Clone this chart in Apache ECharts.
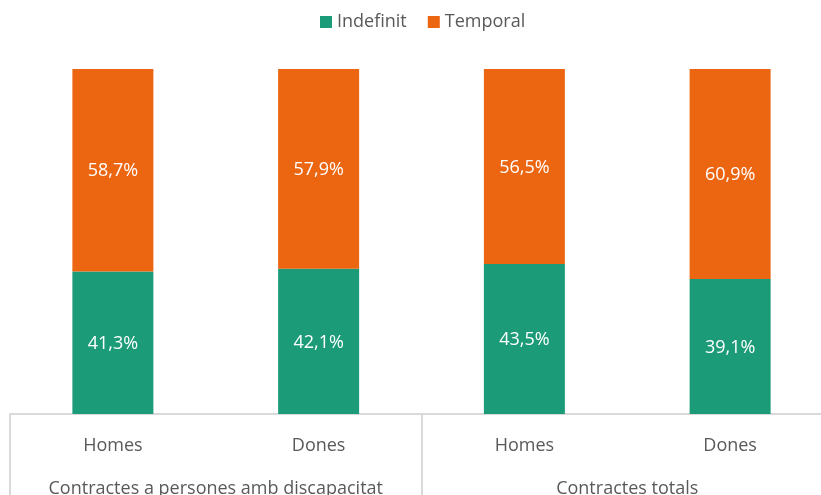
<!DOCTYPE html>
<html>
<head>
<meta charset="utf-8">
<script src="https://cdn.jsdelivr.net/npm/echarts@6/dist/echarts.min.js"></script>
<style>
  html, body { margin: 0; padding: 0; background: #ffffff; overflow: hidden; }
  /* canvas is wider than the window so the last category band is cut at the right edge */
  #chart { width: 840px; height: 495px; }
</style>
</head>
<body>
<div id="chart"></div>
<script>
// Contract type shares (%) by sex, for disabled workers and all contracts
const sexCategories = ['Homes', 'Dones', 'Homes', 'Dones'];
const groupCategories = ['Contractes a persones amb discapacitat', 'Contractes totals'];
const indefinit = [41.3, 42.1, 43.5, 39.1];
const temporal = [58.7, 57.9, 56.5, 60.9];

const FONT = '"Open Sans", "Noto Sans", sans-serif';
const GREY = '#595959';
const LINE = '#d9d9d9';

const fmt = p => p.value.toFixed(1).replace('.', ',') + '%';

const chart = echarts.init(document.getElementById('chart'), null, { renderer: 'canvas' });

chart.setOption({
  animation: false,
  color: ['#1b9b78', '#ec6511'],
  legend: {
    left: 315,
    top: 8,
    itemWidth: 12,
    itemHeight: 12,
    itemGap: 21,
    icon: 'rect',
    textStyle: { fontFamily: FONT, fontSize: 18, color: GREY },
    data: ['Indefinit', 'Temporal']
  },
  grid: { left: 10, top: 69, width: 823, height: 345, containLabel: false, outerBoundsMode: 'none' },
  xAxis: [
    {
      type: 'category',
      data: sexCategories,
      position: 'bottom',
      axisLine: { show: true, lineStyle: { color: LINE, width: 2 } },
      axisTick: { show: false },
      axisLabel: { interval: 0, margin: 23, fontFamily: FONT, fontSize: 18, color: GREY }
    },
    {
      type: 'category',
      data: groupCategories,
      position: 'bottom',
      offset: 0,
      axisLine: { show: false },
      axisTick: { show: true, interval: 0, length: 82, lineStyle: { color: LINE, width: 2 } },
      axisLabel: { interval: 0, margin: 66, fontFamily: FONT, fontSize: 18, color: GREY }
    }
  ],
  yAxis: {
    type: 'value',
    min: 0,
    max: 100,
    show: false
  },
  series: [
    {
      name: 'Indefinit',
      type: 'bar',
      stack: 'total',
      xAxisIndex: 0,
      barWidth: 81,
      data: indefinit,
      label: { show: true, position: 'inside', offset: [0, 1], formatter: fmt, fontFamily: FONT, fontSize: 18, color: '#ffffff' }
    },
    {
      name: 'Temporal',
      type: 'bar',
      stack: 'total',
      xAxisIndex: 0,
      barWidth: 81,
      data: temporal,
      label: { show: true, position: 'inside', offset: [0, 1], formatter: fmt, fontFamily: FONT, fontSize: 18, color: '#ffffff' }
    }
  ]
});
</script>
</body>
</html>
